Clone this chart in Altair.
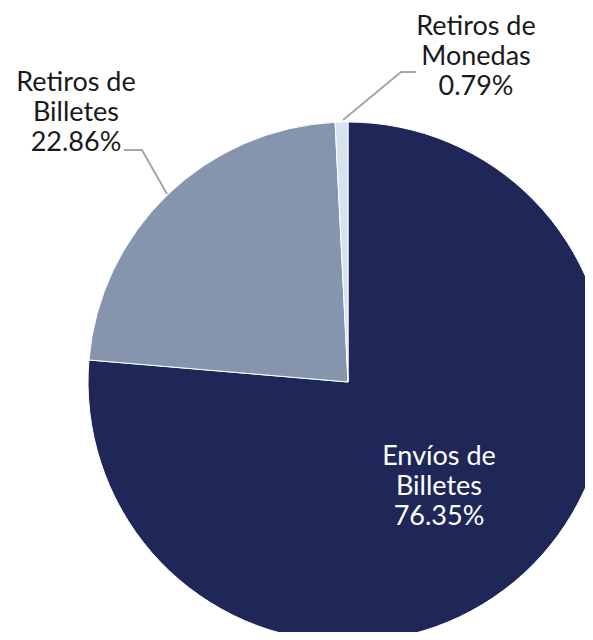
import altair as alt
import pandas as pd

categories = ["Envíos de Billetes", "Retiros de Billetes", "Retiros de Monedas"]
values = [76.35, 22.86, 0.79]
label_lines = [["Envíos de", "Billetes", "76.35%"],
               ["Retiros de", "Billetes", "22.86%"],
               ["Retiros de", "Monedas", "0.79%"]]
colors = ["#1f2759", "#8595ae", "#d6e2f0"]
text_colors = ["#ffffff", "#1a1a1a", "#1a1a1a"]

W, H = 577, 624
CX, CY, R = 340, 374, 260

df = pd.DataFrame({"cat": categories, "val": values, "idx": list(range(len(values)))})

# label anchors (layout only): centre x and first-line baseline, in pixels
label_x = [431, 68, 468]
label_y = [457, 83, 27]
lab = pd.DataFrame({"x": label_x, "y": label_y, "t": label_lines, "c": text_colors})

# leader lines (layout only)
leaders = pd.DataFrame({
    "x": [335, 393, 408, 116, 134, 159],
    "y": [112, 64, 64, 142, 142, 186],
    "g": ["m", "m", "m", "b", "b", "b"],
    "o": [0, 1, 2, 0, 1, 2],
})

pie = alt.Chart(df).mark_arc(outerRadius=R, stroke="white", strokeWidth=1).encode(
    theta=alt.Theta("val:Q", stack=True),
    order=alt.Order("idx:Q"),
    color=alt.Color("cat:N", scale=alt.Scale(domain=categories, range=colors), legend=None),
    x=alt.value(CX),
    y=alt.value(CY),
)

lines = alt.Chart(leaders).mark_line(color="#a6a6a6", strokeWidth=2).encode(
    x=alt.X("x:Q", scale=None, axis=None),
    y=alt.Y("y:Q", scale=None, axis=None),
    detail="g:N",
    order="o:Q",
)

texts = alt.Chart(lab).mark_text(
    font="Lato", fontSize=27, lineHeight=30, align="center", baseline="alphabetic"
).encode(
    x=alt.X("x:Q", scale=None, axis=None),
    y=alt.Y("y:Q", scale=None, axis=None),
    text="t",
    color=alt.Color("c:N", scale=None, legend=None),
)

chart = alt.layer(pie, lines, texts).properties(
    width=W, height=H, padding=0, autosize=alt.AutoSizeParams(type="none")
).configure_view(stroke=None)

chart.save("out.html", embed_options={"renderer": "svg", "actions": False})
